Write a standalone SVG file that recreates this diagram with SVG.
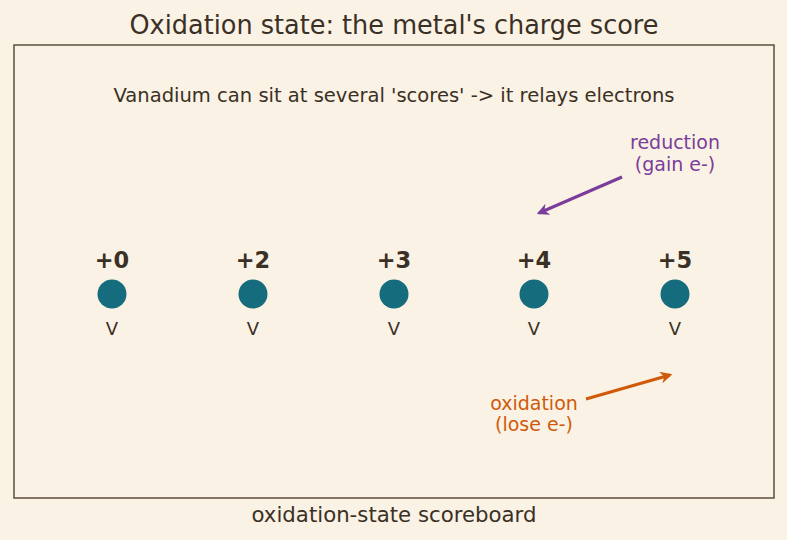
<svg xmlns="http://www.w3.org/2000/svg" width="787" height="540" viewBox="0 0 787 540">
<style>
text{font-family:"DejaVu Sans","Liberation Sans",sans-serif;fill:#3a3025}
.st{font-size:22.5px;font-weight:bold;text-anchor:middle}
.el{font-size:18px;text-anchor:middle}
.lab{font-size:19px;text-anchor:middle}
.atom{fill:#156c7d}
</style>
<defs>
<marker id="ap" viewBox="0 0 10 10" refX="8" refY="5" markerWidth="4" markerHeight="4" orient="auto"><path d="M0,0 L10,5 L0,10 L3,5 z" fill="#7b3d9b"/></marker>
<marker id="ao" viewBox="0 0 10 10" refX="8" refY="5" markerWidth="4" markerHeight="4" orient="auto"><path d="M0,0 L10,5 L0,10 L3,5 z" fill="#d05a0a"/></marker>
</defs>
<rect width="787" height="540" fill="#faf2e4"/>
<text x="394" y="34" font-size="26" text-anchor="middle" textLength="529" lengthAdjust="spacingAndGlyphs">Oxidation state: the metal's charge score</text>
<rect x="14" y="45" width="760" height="453" fill="none" stroke="#5b4d3d" stroke-width="1.5"/>
<text x="394" y="102" font-size="19.5" text-anchor="middle" textLength="561" lengthAdjust="spacingAndGlyphs">Vanadium can sit at several 'scores' -&gt; it relays electrons</text>
<g id="v0"><text class="st" x="112" y="268">+0</text><circle class="atom" cx="112" cy="294" r="14.5"/><text class="el" x="112" y="335">V</text></g>
<g id="v2"><text class="st" x="253" y="268">+2</text><circle class="atom" cx="253" cy="294" r="14.5"/><text class="el" x="253" y="335">V</text></g>
<g id="v3"><text class="st" x="394" y="268">+3</text><circle class="atom" cx="394" cy="294" r="14.5"/><text class="el" x="394" y="335">V</text></g>
<g id="v4"><text class="st" x="534" y="268">+4</text><circle class="atom" cx="534" cy="294" r="14.5"/><text class="el" x="534" y="335">V</text></g>
<g id="v5"><text class="st" x="675" y="268">+5</text><circle class="atom" cx="675" cy="294" r="14.5"/><text class="el" x="675" y="335">V</text></g>
<g id="connectors">
<line x1="622" y1="177" x2="539" y2="213" stroke="#7b3d9b" stroke-width="3" marker-end="url(#ap)"/>
<line x1="586" y1="399" x2="670" y2="375" stroke="#d05a0a" stroke-width="3" marker-end="url(#ao)"/>
</g>
<g id="reduction-label"><text class="lab" x="675" y="149" style="fill:#7b3d9b">reduction</text><text class="lab" x="675" y="171" style="fill:#7b3d9b">(gain e-)</text></g>
<g id="oxidation-label"><text class="lab" x="534" y="410" style="fill:#d05a0a">oxidation</text><text class="lab" x="534" y="431" style="fill:#d05a0a">(lose e-)</text></g>
<text x="394" y="522" font-size="20.5" text-anchor="middle" textLength="285" lengthAdjust="spacingAndGlyphs">oxidation-state scoreboard</text>
</svg>
